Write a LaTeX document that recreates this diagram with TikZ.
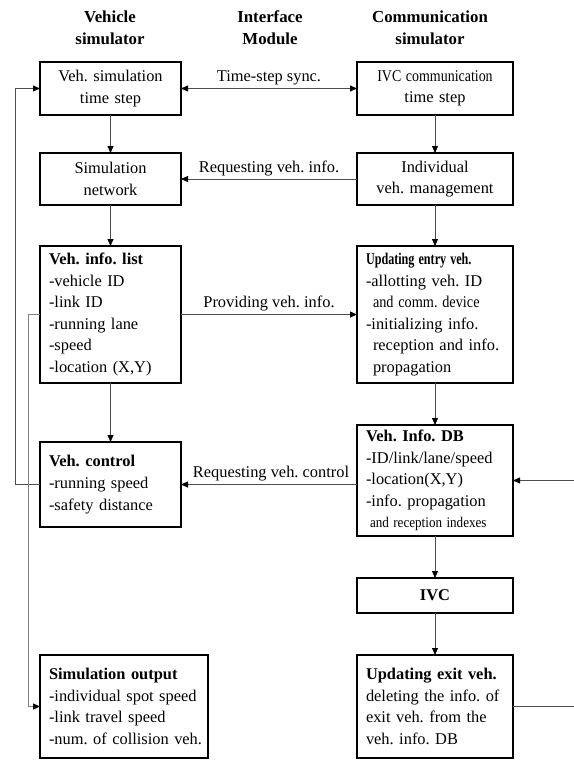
\documentclass[tikz,border=0pt]{standalone}
\usepackage{fontspec}
\setmainfont{Liberation Serif}
\usepackage{graphicx}
\usetikzlibrary{arrows.meta, positioning}
\frenchspacing

\begin{document}
\begin{tikzpicture}[>={Triangle[length=7pt, width=6pt, color=black]},
  font=\fontsize{16.4}{21.6}\selectfont,
  line width=0.8pt, draw=black!70,
  head/.style={font=\fontsize{16.8}{22}\selectfont\bfseries, align=center},
  box/.style={draw=black, line width=1.2pt, outer sep=0pt, inner xsep=9pt, inner ysep=3pt, align=left},
  vbox/.style={box, text width=123pt, minimum height=#1},
  cbox/.style={box, text width=138pt, minimum height=#1},
  lbl/.style={above, inner sep=3pt}]
  \useasboundingbox (0,0) rectangle (573pt,-760pt);
  % column heads
  \node[head] (vhead) at (110pt,-28pt) {Vehicle\\simulator};
  \node[head] (ihead) at (270pt,-28pt) {Interface\\Module};
  \node[head] (chead) at (430pt,-28pt) {Communication\\simulator};
  % vehicle simulator
  \node[vbox=53pt, align=center, anchor=north west] (vstep) at (40pt,-62pt) {Veh. simulation\\time step};
  \node[vbox=52pt, align=center, below=38pt of vstep] (vnet) {Simulation\\network};
  \node[vbox=137pt, below=41pt of vnet] (vlist) {\textbf{Veh. info. list}\\-vehicle ID\\-link ID\\-running lane\\-speed\\-location (X,Y)};
  \node[vbox=85pt, below=59pt of vlist] (vctrl) {\textbf{Veh. control}\\-running speed\\-safety distance};
  \node[box, inner xsep=9pt, text width=150pt, minimum height=103pt, below=128pt of vctrl.south west, anchor=north west] (vout)
    {\textbf{Simulation output}\\\mbox{-individual spot speed}\\-link travel speed\\\mbox{-num. of collision veh.}};
  % communication simulator
  \node[cbox=53pt, align=center, anchor=north west] (cstep) at (357pt,-62pt) {\scalebox{0.85}[1]{IVC communication}\\time step};
  \node[cbox=52pt, align=center, below=38pt of cstep] (cman) {Individual\\veh. management};
  \node[cbox=137pt, below=41pt of cman] (centry) {\scalebox{0.74}[1]{\textbf{Updating entry veh.}}\\-allotting veh. ID\\
    \hspace*{7pt}\scalebox{0.87}[1]{and comm. device}\\-initializing info.\\\hspace*{7pt}reception and info.\\\hspace*{7pt}propagation};
  \node[cbox=111pt, below=42pt of centry] (cdb) {\textbf{Veh. Info. DB}\\-ID/link/lane/speed\\-location(X,Y)\\-info. propagation\\
    \hspace*{4pt}\scalebox{0.8}[0.9]{and reception indexes}};
  \node[cbox=35pt, align=center, below=42pt of cdb] (civc) {\textbf{IVC}};
  \node[cbox=103pt, below=42pt of civc] (cexit) {\textbf{Updating exit veh.}\\\mbox{deleting the info. of}\\exit veh. from the\\veh. info. DB};
  % interface
  \draw[<->] (vstep) -- node[lbl] {Time-step sync.} (cstep);
  \draw[->] (cman) -- node[lbl] {Requesting veh. info.} (vnet);
  \draw[->] (vlist) -- node[lbl] {Providing veh. info.} (centry);
  \draw[->] (cdb.west |- vctrl.east) -- node[lbl, xshift=2pt] {Requesting veh. control} (vctrl.east);
  % flow in columns
  \draw[->] (vstep) -- (vnet);
  \draw[->] (vnet) -- (vlist);
  \draw[->] (vlist) -- (vctrl);
  \draw[->] (cstep) -- (cman);
  \draw[->] (cman) -- (centry);
  \draw[->] (centry) -- (cdb);
  \draw[->] (cdb) -- (civc);
  \draw[->] (civc) -- (cexit);
  % loops
  \draw[->] (vctrl.west) -- ++(-25pt,0) |- (vstep.west);
  \draw[->, draw=black!50] (vlist.west) -- ++(-12pt,0) |- (vout.west);
  \draw[->] (cexit.east) -- ++(70pt,0) |- (cdb.east);
\end{tikzpicture}
\end{document}
